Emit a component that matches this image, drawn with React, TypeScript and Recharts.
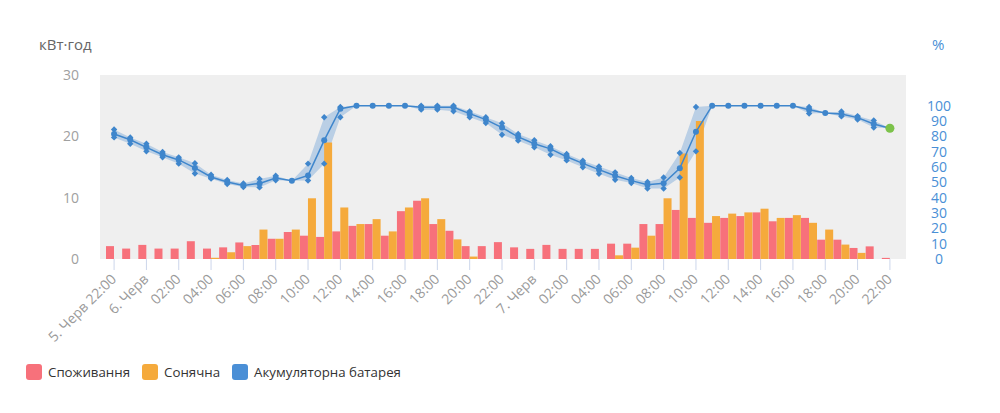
import React from 'react';
import { ComposedChart, Bar, Line, Area, XAxis, YAxis, CartesianGrid } from 'recharts';

const categories = [
  '5-22', '5-23',
  '6-00', '6-01', '6-02', '6-03', '6-04', '6-05', '6-06', '6-07', '6-08', '6-09', '6-10', '6-11',
  '6-12', '6-13', '6-14', '6-15', '6-16', '6-17', '6-18', '6-19', '6-20', '6-21', '6-22', '6-23',
  '7-00', '7-01', '7-02', '7-03', '7-04', '7-05', '7-06', '7-07', '7-08', '7-09', '7-10', '7-11',
  '7-12', '7-13', '7-14', '7-15', '7-16', '7-17', '7-18', '7-19', '7-20', '7-21', '7-22',
];

const tickLabels: Record<string, string> = {
  '5-22': '5. Черв 22:00',
  '6-00': '6. Черв', '6-02': '02:00', '6-04': '04:00', '6-06': '06:00', '6-08': '08:00', '6-10': '10:00',
  '6-12': '12:00', '6-14': '14:00', '6-16': '16:00', '6-18': '18:00', '6-20': '20:00', '6-22': '22:00',
  '7-00': '7. Черв', '7-02': '02:00', '7-04': '04:00', '7-06': '06:00', '7-08': '08:00', '7-10': '10:00',
  '7-12': '12:00', '7-14': '14:00', '7-16': '16:00', '7-18': '18:00', '7-20': '20:00', '7-22': '22:00',
};

// kWh
const consumption = [
  2.1, 1.7,
  2.3, 1.7, 1.7, 2.9, 1.7, 1.9, 2.7, 2.3, 3.3, 4.4, 3.8, 3.6,
  4.5, 5.4, 5.7, 3.8, 7.8, 9.5, 5.7, 4.6, 2.1, 2.1, 2.75, 1.9,
  1.65, 2.3, 1.65, 1.65, 1.65, 2.5, 2.5, 5.7, 5.7, 8.0, 6.7, 5.9,
  6.7, 7.0, 7.6, 6.15, 6.7, 6.7, 3.15, 3.15, 1.8, 2.06, 0.18,
];

const solar = [
  0, 0,
  0, 0, 0, 0, 0.2, 1.1, 2.1, 4.8, 3.3, 4.8, 9.9, 19.0,
  8.4, 5.7, 6.5, 4.5, 8.4, 9.9, 6.5, 3.2, 0.4, 0, 0, 0,
  0, 0, 0, 0, 0, 0.6, 1.85, 3.8, 9.9, 17.2, 22.5, 7.0,
  7.4, 7.6, 8.2, 6.7, 7.15, 5.9, 4.8, 2.35, 1.0, 0, 0,
];

// battery %
const socMid = [
  81.5, 77.8,
  72.8, 68, 64.6, 59.4, 53.5, 50.2, 48, 49.3, 52.8, 51, 54.5, 77.4,
  98, 100, 100, 100, 100, 99, 99, 99, 94.8, 90.9, 85.7, 79.6,
  75.2, 71.8, 66.7, 62.4, 58.3, 54.3, 51.1, 48.5, 49.4, 59.2, 83, 100,
  100, 100, 100, 100, 100, 97.4, 95.2, 94.5, 92.2, 88, 85.3,
];

const socHigh = [
  84.5, 79.3,
  75.2, 69.8, 66.3, 62.4, 55, 51.5, 49.3, 52.2, 54.3, 51, 62.2, 92.4,
  99.1, 100, 100, 100, 100, 100, 100, 100, 96.3, 92.4, 88.5, 81.5,
  77.4, 73.5, 68.5, 64.1, 60.4, 56.5, 52.8, 50.2, 53.2, 69.1, 99.1, 100,
  100, 100, 100, 100, 100, 99.1, 95.2, 96.2, 93.2, 90.4, 85.3,
];

const socLow = [
  79.3, 75.2,
  70.2, 66.3, 62.2, 55.8, 52.4, 48.9, 47, 46.7, 51.3, 51, 51.2, 62.2,
  92.4, 100, 100, 100, 100, 97.4, 97.4, 96.3, 92.4, 88.7, 81, 77.2,
  72.8, 68, 64.3, 59.8, 55.6, 51.7, 49.6, 45.9, 46, 53.2, 70.2, 100,
  100, 100, 100, 100, 100, 94.9, 95.2, 93, 90.9, 85.7, 85.3,
];

const leftTicks = [0, 10, 20, 30];
const rightTicks = [0, 10, 20, 30, 40, 50, 60, 70, 80, 90, 100];

const data = categories.map((c, i) => ({
  cat: c,
  cons: consumption[i],
  solar: solar[i],
  soc: socMid[i],
  hi: socHigh[i],
  lo: socLow[i],
  band: [socLow[i], socHigh[i]],
}));

const FONT = '"Open Sans", sans-serif';
const RED = '#f7717b';
const ORANGE = '#f5aa3c';
const BLUE = '#3f86cc';

const XTick = (props: any) => {
  const { x, y, payload } = props;
  const label = tickLabels[payload.value];
  if (!label) return null;
  const ax = x + 3;
  const ay = y + 8;
  return (
    <text x={ax} y={ay} transform={`rotate(-45 ${ax} ${ay})`} textAnchor="end" fill="#9a9a9a" fontSize={14} fontFamily={FONT}>
      {label}
    </text>
  );
};

const LeftTick = (props: any) => {
  const { x, y, payload } = props;
  return (
    <text x={x} y={y} dy="0.35em" textAnchor="end" fill="#a0a0a0" fontSize={14} fontFamily={FONT}>
      {payload.value}
    </text>
  );
};

const RightTick = (props: any) => {
  const { x, y, payload } = props;
  return (
    <text x={x + 33} y={y} dy="0.35em" textAnchor="middle" fill="#4a8fd6" fontSize={14} fontFamily={FONT}>
      {payload.value}
    </text>
  );
};

const MidDot = (props: any) => {
  const { cx, cy, index } = props;
  if (cx == null || cy == null) return null;
  if (index === categories.length - 1) {
    return <circle cx={cx} cy={cy} r={4.5} fill="#7cc24a" />;
  }
  return <circle cx={cx} cy={cy} r={3} fill={BLUE} />;
};

const makeDiamond = (key: 'hi' | 'lo') => (props: any) => {
  const { cx, cy, payload } = props;
  if (cx == null || cy == null) return null;
  if (Math.abs(payload[key] - payload.soc) < 0.4) return null;
  const s = 3.2;
  return <path d={`M${cx},${cy - s} L${cx + s},${cy} L${cx},${cy + s} L${cx - s},${cy} Z`} fill={BLUE} />;
};

const HiDot = makeDiamond('hi');
const LoDot = makeDiamond('lo');

const legendItems = [
  { label: 'Споживання', color: RED },
  { label: 'Сонячна', color: ORANGE },
  { label: 'Акумуляторна батарея', color: '#4a8fd6' },
];

export default function App() {
  return (
    <div style={{ position: 'absolute', left: 0, top: 0, width: 1000, height: 413, fontFamily: FONT }}>
      <div style={{ position: 'absolute', left: 39, top: 34, fontSize: 15, color: '#666', lineHeight: '20px' }}>кВт·год</div>
      <div style={{ position: 'absolute', left: 932, top: 34, fontSize: 15, color: '#4a8fd6', lineHeight: '20px' }}>%</div>
      <ComposedChart
        width={1000}
        height={413}
        data={data}
        margin={{ top: 75, right: 0, bottom: 0, left: 0 }}
        barCategoryGap={0}
        barGap={0}
      >
        <CartesianGrid horizontal={false} vertical={false} fill="#efefef" stroke="none" />
        <XAxis
          dataKey="cat"
          interval={1}
          height={154}
          axisLine={false}
          tickLine={{ stroke: '#ccd6eb' }}
          tickSize={11}
          padding={{ left: 6, right: 8 }}
          tick={<XTick />}
        />
        <YAxis
          width={100}
          domain={[0, 30]}
          ticks={leftTicks}
          interval={0}
          axisLine={false}
          tickLine={false}
          tickSize={0}
          tickMargin={21}
          tick={<LeftTick />}
        />
        <YAxis
          yAxisId="pct"
          orientation="right"
          width={94}
          domain={[0, 120]}
          ticks={rightTicks}
          interval={0}
          axisLine={false}
          tickLine={false}
          tickSize={0}
          tickMargin={0}
          tick={<RightTick />}
        />
        <Bar dataKey="cons" fill={RED} isAnimationActive={false} />
        <Bar dataKey="solar" fill={ORANGE} isAnimationActive={false} />
        <Area
          yAxisId="pct"
          dataKey="band"
          type="linear"
          stroke="none"
          fill={BLUE}
          fillOpacity={0.3}
          isAnimationActive={false}
          activeDot={false}
        />
        <Line yAxisId="pct" dataKey="hi" stroke="none" dot={<HiDot />} activeDot={false} isAnimationActive={false} />
        <Line yAxisId="pct" dataKey="lo" stroke="none" dot={<LoDot />} activeDot={false} isAnimationActive={false} />
        <Line
          yAxisId="pct"
          dataKey="soc"
          type="linear"
          stroke={BLUE}
          strokeWidth={1.5}
          dot={<MidDot />}
          activeDot={false}
          isAnimationActive={false}
        />
      </ComposedChart>
      <div style={{ position: 'absolute', left: 26, top: 364, display: 'flex', alignItems: 'center', fontSize: 13.3, color: '#333' }}>
        {legendItems.map((it) => (
          <div key={it.label} style={{ display: 'flex', alignItems: 'center', marginRight: 12 }}>
            <div style={{ width: 16, height: 16, borderRadius: 3, background: it.color, marginRight: 6 }} />
            <span style={{ lineHeight: '16px' }}>{it.label}</span>
          </div>
        ))}
      </div>
    </div>
  );
}
